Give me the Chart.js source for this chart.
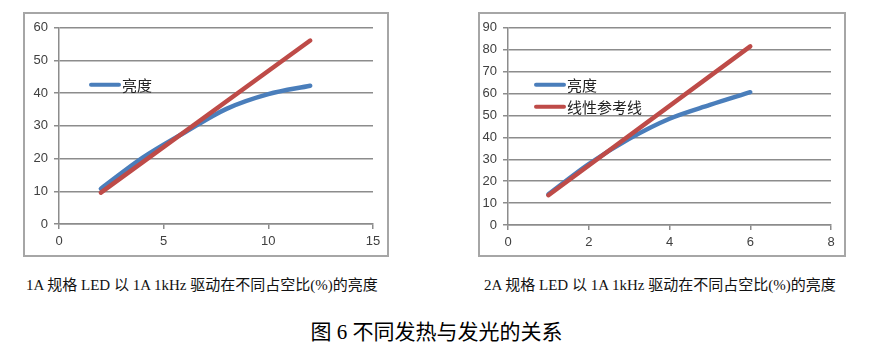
<!DOCTYPE html>
<html>
<head>
<meta charset="utf-8">
<script src="https://cdn.jsdelivr.net/npm/chart.js@4"></script>
<style>
  body { margin: 0; background: #fff; width: 873px; height: 348px; position: relative; overflow: hidden; }
  .box { position: absolute; border: 2px solid #a6a6a6; background: #fff; }
  .box canvas { display: block; }
  .cap { position: absolute; font-family: "Liberation Serif", "Noto Sans CJK SC", serif; font-size: 15px; color: #111; white-space: nowrap; }
  #title { position: absolute; left: 0; width: 873px; top: 315px; text-align: center; font-family: "Liberation Serif", "Noto Sans CJK SC", serif; font-size: 21px; color: #000; }
</style>
</head>
<body>
<div class="box" style="left:23px; top:12px; width:362px; height:241px;"><canvas id="chart1"></canvas></div>
<div class="box" style="left:478px; top:12px; width:364px; height:241px;"><canvas id="chart2"></canvas></div>
<div class="cap" style="left:26px; top:273px;">1A 规格 LED 以 1A 1kHz 驱动在不同占空比(%)的亮度</div>
<div class="cap" style="left:484px; top:273px;">2A 规格 LED 以 1A 1kHz 驱动在不同占空比(%)的亮度</div>
<div id="title">图 6 不同发热与发光的关系</div>

<script>
// left chart: 1A LED
const duty1 = [2, 4, 6, 8, 10, 12];
const bright1 = [10.8, 20.3, 28.0, 35.2, 39.7, 42.3];
const refX1 = [2, 12];
const refY1 = [9.6, 56.1];

// right chart: 2A LED
const duty2 = [1, 2, 3, 4, 5, 6];
const bright2 = [14.0, 27.8, 39.3, 48.5, 54.8, 60.6];
const refX2 = [1, 6];
const refY2 = [13.6, 81.5];

const blue = '#4a7ebb';
const red = '#be4b48';
const gridGray = '#8c8c8c';

function toPoints(xs, ys) {
    return xs.map((x, i) => ({ x: x, y: ys[i] }));
}

// draws the small in-plot legend like the Excel original
function legendPlugin(items, offX, offY, gap) {
    return {
        id: 'inlineLegend',
        afterDraw(chart) {
            const ctx = chart.ctx;
            const a = chart.chartArea;
            ctx.save();
            items.forEach((it, i) => {
                const y = a.top + offY + i * gap;
                ctx.strokeStyle = it.color;
                ctx.lineWidth = 4;
                ctx.lineCap = 'round';
                ctx.beginPath();
                ctx.moveTo(a.left + offX, y);
                ctx.lineTo(a.left + offX + 28, y);
                ctx.stroke();
                ctx.fillStyle = '#222';
                ctx.font = '15px "Noto Sans CJK SC", sans-serif';
                ctx.textBaseline = 'middle';
                ctx.fillText(it.label, a.left + offX + 31, y);
            });
            ctx.restore();
        }
    };
}

function makeChart(id, cfg) {
    const ctx = document.getElementById(id).getContext('2d');
    return new Chart(ctx, {
        type: 'scatter',
        data: {
            datasets: [
                {
                    data: toPoints(cfg.xs, cfg.ys),
                    showLine: true,
                    borderColor: blue,
                    borderWidth: 4.5,
                    pointRadius: 0,
                    cubicInterpolationMode: 'monotone',
                    borderCapStyle: 'round',
                    order: 2
                },
                {
                    data: toPoints(cfg.rx, cfg.ry),
                    showLine: true,
                    borderColor: red,
                    borderWidth: 4.5,
                    pointRadius: 0,
                    borderCapStyle: 'round',
                    order: 1
                }
            ]
        },
        options: {
            responsive: true,
            maintainAspectRatio: false,
            animation: false,
            layout: { padding: { left: 0, right: cfg.padR, top: cfg.padT, bottom: 0 } },
            plugins: { legend: { display: false }, tooltip: { enabled: false } },
            scales: {
                x: {
                    type: 'linear',
                    min: 0, max: cfg.xMax,
                    ticks: { stepSize: cfg.xStep, padding: 5, color: '#404040', font: { family: 'Liberation Sans', size: 13 } },
                    grid: { drawOnChartArea: false, drawTicks: true, tickLength: 5, color: gridGray, lineWidth: 1.5 },
                    border: { color: gridGray, width: 1.5 },
                    afterFit: s => { s.height = cfg.xH; }
                },
                y: {
                    min: 0, max: cfg.yMax,
                    ticks: { stepSize: 10, padding: 6, color: '#404040', font: { family: 'Liberation Sans', size: 13 } },
                    grid: { color: gridGray, lineWidth: 1.5, tickLength: 5 },
                    border: { color: gridGray, width: 1.5 },
                    afterFit: s => { s.width = cfg.yW; }
                }
            }
        },
        plugins: [legendPlugin(cfg.legend, cfg.legX, cfg.legY, 22)]
    });
}

makeChart('chart1', {
    xs: duty1, ys: bright1, rx: refX1, ry: refY1,
    xMax: 15, xStep: 5, yMax: 60,
    padR: 14, padT: 13, xH: 31, yW: 34,
    legend: [{ label: '亮度', color: blue }],
    legX: 32, legY: 57
});

makeChart('chart2', {
    xs: duty2, ys: bright2, rx: refX2, ry: refY2,
    xMax: 8, xStep: 2, yMax: 90,
    padR: 13, padT: 12, xH: 30, yW: 28,
    legend: [{ label: '亮度', color: blue }, { label: '线性参考线', color: red }],
    legX: 28, legY: 57
});
</script>
</body>
</html>
